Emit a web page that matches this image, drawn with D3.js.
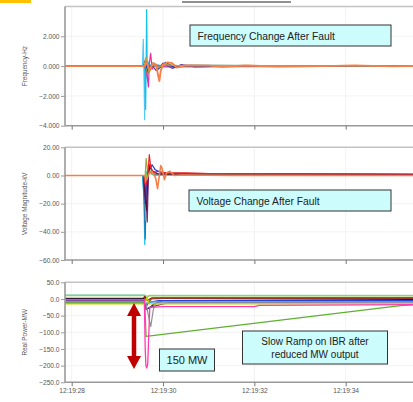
<!DOCTYPE html>
<html><head><meta charset="utf-8">
<script src="https://cdnjs.cloudflare.com/ajax/libs/d3/7.8.5/d3.min.js"></script>
<style>
html,body{margin:0;padding:0;background:#fff;}
svg{display:block;}
text{font-family:"Liberation Sans",Arial,sans-serif;}
</style></head>
<body>
<svg id="chart" width="413" height="402"></svg>
<script>
// ---------- DATA ----------
const timeTicks = [28, 30, 32, 34];
const timeLabels = ["12:19:28", "12:19:30", "12:19:32", "12:19:34"];

const freqTicks = [-4, -2, 0, 2];
const voltTicks = [-60, -40, -20, 0, 20];
const powerTicks = [-250, -200, -150, -100, -50, 0, 50];

const panelTitles = ["Frequency-Hz", "Voltage Magnitude-kV", "Real Power-MW"];

// frequency deviation series, [seconds, Hz]
const freqSeries = [
  [[27.85,0],[29.55,0],[29.567,1.8],[29.585,-1.0],[29.597,-3.6],[29.61,0.2],[29.63,-0.2],[29.7,0.1],[29.8,0],[35.9,0]],
  [[27.85,0],[29.6,0],[29.619,-2.9],[29.63,0],[29.641,3.8],[29.655,-0.8],[29.67,0.3],[29.72,-0.2],[29.85,0.1],[30.0,0],[35.9,0]],
  [[27.85,0],[29.6,0],[29.65,-0.6],[29.68,-1.4],[29.70,0.2],[29.73,0.85],[29.76,-0.2],[29.82,0.1],[29.95,-0.05],[35.9,0]],
  [[27.85,0],[29.58,0],[29.62,0.4],[29.66,-0.5],[29.72,-0.3],[29.8,0.2],[29.9,-0.1],[30.1,0.15],[30.3,-0.05],[30.6,0.05],[35.9,0]],
  [[27.85,0],[29.58,0],[29.62,0.5],[29.67,-0.3],[29.75,0.1],[29.85,-0.3],[30.0,0.2],[30.2,-0.15],[30.4,0.1],[30.7,-0.05],[31.5,0.02],[35.9,0]],
  [[27.85,0],[29.58,0],[29.6,0.3],[29.68,-0.4],[29.78,0.2],[29.9,-0.2],[30.05,0.25],[30.25,-0.1],[30.5,0.05],[35.9,0]],
  [[27.85,0],[29.58,0],[29.63,0.6],[29.69,-0.4],[29.77,0.15],[29.88,-0.15],[30.0,0.1],[30.3,0.05],[35.9,0]],
  [[27.85,0],[29.6,0],[29.64,0.3],[29.70,-0.3],[29.78,0.2],[29.85,0.1],[29.89,-0.6],[29.92,-1.0],[29.95,-0.3],[30.0,0.1],[30.1,0.25],[30.2,0.2],[30.3,-0.1],[30.5,0.05],[31.0,0.03],[31.3,-0.05],[31.8,0.04],[32.5,-0.03],[33.5,0.0],[34.2,0.05],[35.0,-0.02],[35.9,0.03]]
];
const freqColors = ["#55c8f5","#12c2ee","#ee2a9b","#7ab800","#6a3d9a","#2040c0","#b5a642","#f4804a"];

// voltage deviation series, [seconds, kV]
const voltSeries = [
  [[27.85,0],[29.55,0],[29.58,-15],[29.60,-49],[29.62,-20],[29.64,2],[29.68,5],[29.75,1],[29.9,0.5],[35.9,0]],
  [[27.85,0],[29.56,0],[29.59,-20],[29.61,-45],[29.63,-15],[29.66,3],[29.72,2],[29.85,0.5],[35.9,0]],
  [[27.85,0],[29.57,0],[29.6,-10],[29.625,-32],[29.64,0],[29.66,5],[29.72,3],[29.8,0],[35.9,0]],
  [[27.85,0],[29.58,0],[29.62,-10],[29.655,-33],[29.68,0],[29.71,8],[29.75,4],[29.8,2],[29.9,1],[30.0,1.5],[35.9,0.5]],
  [[27.85,0],[29.58,0],[29.61,-20],[29.64,-5],[29.68,3],[29.76,7.6],[29.83,4],[29.95,2],[30.1,1.5],[35.9,0.5]],
  [[27.85,0],[29.58,0],[29.6,-5],[29.63,12],[29.66,4],[29.75,2],[29.9,1],[35.9,0.5]],
  [[27.85,0],[29.57,0],[29.6,-12],[29.64,-25],[29.67,-2],[29.7,6],[29.78,3],[29.9,1],[35.9,0.8]],
  [[27.85,0],[29.57,0],[29.62,-8],[29.66,-2],[29.7,14.9],[29.73,6],[29.78,2],[29.9,3],[30.05,1.8],[30.5,1.8],[31,1.4],[32,1.3],[33,1.2],[35.9,1.0]],
  [[27.85,0],[29.6,0],[29.64,-3],[29.7,2],[29.76,3],[29.84,-2],[29.88,-9.4],[29.92,0],[29.95,7],[29.98,5],[30.03,-3],[30.08,2],[30.15,3],[30.25,0],[30.4,0.3],[31.5,0.1],[35.9,0]]
];
const voltColors = ["#17c0eb","#1f78b4","#8dc63f","#7b2a8c","#2633d6","#a7a33a","#5a1040","#e8262a","#f4804a"];

// real power series, [seconds, MW]
const powerSeries = [
  [[27.85,12],[29.6,12],[29.65,8],[29.7,11],[35.9,11]],
  [[27.85,10],[29.6,10],[29.64,4],[29.7,9],[35.9,9]],
  [[27.85,0],[29.57,0],[29.6,5],[29.63,-25],[29.68,-10],[29.75,0],[30.0,2],[35.9,2]],
  [[27.85,2],[29.57,2],[29.6,8],[29.65,-5],[29.75,3],[35.9,3]],
  [[27.85,0],[29.58,0],[29.62,-30],[29.7,-28],[29.8,-15],[30.0,-5],[35.9,-2]],
  [[27.85,-3],[29.58,-3],[29.62,-20],[29.7,-10],[29.9,-5],[35.9,-5]],
  [[27.85,-5],[29.58,-5],[29.63,-32],[29.7,-25],[29.85,-20],[30.1,-12],[35.9,-8]],
  [[27.85,-7],[29.6,-7],[29.65,-15],[29.75,-9],[35.9,-9]],
  [[27.85,-10],[29.62,-10],[29.65,-30],[29.73,-83],[29.79,-30],[29.85,-12],[35.9,-12]],
  [[27.85,-15],[29.6,-15],[29.65,5],[29.7,-15],[35.9,-15]],
  [[27.85,-12],[29.6,-12],[29.63,-112],[35.2,-20],[35.9,-15]],
  [[27.85,-2],[29.59,-2],[29.61,-150],[29.625,-200],[29.645,-207],[29.665,-195],[29.69,-100],[29.71,-25],[30.0,-23],[32.0,-23],[32.1,-19],[35.9,-17]]
];
const powerColors = ["#8fd8b0","#9ad050","#a0522d","#8b1a1a","#1a1a40","#2040e0","#7030a0","#30b0e0","#909090","#c4d600","#5fb030","#ff3ab0"];

// ---------- DRAW ----------
const svg = d3.select("#chart");
const X0 = 65, X1 = 430;
const x = d3.scaleLinear().domain([28, 34]).range([71.7, 345.7]);

// top decorations
svg.append("rect").attr("x",0).attr("y",0).attr("width",31).attr("height",3).attr("fill","#ffc000");
svg.append("line").attr("x1",182).attr("x2",291).attr("y1",2).attr("y2",2).attr("stroke","#222").attr("stroke-width",1);

const panels = [
  {series: freqSeries, colors: freqColors, ticks: freqTicks, domain:[-4,4], range:[125.7,6.5], fmt: d3.format(".3f"), title: panelTitles[0], labels:false, lastW:1.9},
  {series: voltSeries, colors: voltColors, ticks: voltTicks, domain:[-60,20], range:[260,147.3], fmt: d3.format(".2f"), title: panelTitles[1], labels:false, lastW:1.6},
  {series: powerSeries, colors: powerColors, ticks: powerTicks, domain:[-250,50], range:[382.3,282.3], fmt: d3.format(".1f"), title: panelTitles[2], labels:true, lastW:1.3}
];

panels.forEach((p, i) => {
  const y = d3.scaleLinear().domain(p.domain).range(p.range);
  const top = p.range[1], bot = p.range[0];
  const g = svg.append("g");
  const clipId = "clip" + i;
  svg.append("clipPath").attr("id", clipId).append("rect")
    .attr("x", X0).attr("y", top).attr("width", X1 - X0).attr("height", bot - top);

  // grid
  g.selectAll(".vg").data(timeTicks).join("line")
    .attr("x1", d => x(d)).attr("x2", d => x(d)).attr("y1", top).attr("y2", bot)
    .attr("stroke", "#eeeeee").attr("stroke-width", 0.8);
  g.selectAll(".hg").data(p.ticks).join("line")
    .attr("x1", X0).attr("x2", X1).attr("y1", d => y(d)).attr("y2", d => y(d))
    .attr("stroke", "#f0f0f0").attr("stroke-width", 0.8);

  // frame top
  g.append("line").attr("x1", X0).attr("x2", X1).attr("y1", top).attr("y2", top)
    .attr("stroke", "#c4c4c4").attr("stroke-width", 1.6);

  // lines
  const line = d3.line().x(d => x(d[0])).y(d => y(d[1]));
  const n = p.series.length;
  g.append("g").attr("clip-path", `url(#${clipId})`)
    .selectAll("path").data(p.series).join("path")
    .attr("d", line).attr("fill", "none")
    .attr("stroke", (d, k) => p.colors[k])
    .attr("stroke-width", (d, k) => k === n - 1 ? p.lastW : 1.2)
    .attr("stroke-linejoin", "round");

  // y axis
  const ya = d3.axisLeft(y).tickValues(p.ticks).tickFormat(p.fmt).tickSize(4).tickPadding(1.5);
  const yg = svg.append("g").attr("transform", `translate(${X0},0)`).call(ya);
  yg.select(".domain").attr("stroke", "#9a9a9a").attr("stroke-width", 1.6).attr("d", `M0,${top}V${bot}`);
  yg.selectAll(".tick line").attr("stroke", "#9a9a9a");
  yg.selectAll(".tick text").attr("fill", "#555").attr("font-size", 6.6);

  // x axis
  const xa = d3.axisBottom(x).tickValues(timeTicks).tickSize(4)
    .tickFormat((d, k) => p.labels ? timeLabels[k] : "").tickPadding(2);
  const xg = svg.append("g").attr("transform", `translate(0,${bot})`).call(xa);
  xg.select(".domain").attr("stroke", "#9a9a9a").attr("stroke-width", 1.6).attr("d", `M${X0},0H${X1}`);
  xg.selectAll(".tick line").attr("stroke", "#777");
  xg.selectAll(".tick text").attr("fill", "#555").attr("font-size", 6.6);

  // title
  svg.append("text").attr("transform", `translate(27,${(top + bot) / 2}) rotate(-90)`)
    .attr("text-anchor", "middle").attr("font-size", 6.4).attr("fill", "#555").text(p.title);
});

// annotations
function box(x0, y0, w, h, lines, opts) {
  svg.append("rect").attr("x", x0).attr("y", y0).attr("width", w).attr("height", h)
    .attr("fill", "#ccfcfc").attr("stroke", "#333").attr("stroke-width", 1);
  lines.forEach((t, k) => {
    svg.append("text").attr("x", opts.anchor === "middle" ? x0 + w / 2 : x0 + opts.pad)
      .attr("y", opts.base + k * opts.lh).attr("text-anchor", opts.anchor)
      .attr("font-size", opts.size).attr("fill", "#222").text(t);
  });
}
box(190, 25, 201, 21, ["Frequency Change After Fault"], {anchor:"start", pad:7.5, base:39.5, size:10.3, lh:0});
box(189, 190, 202, 21, ["Voltage Change After Fault"], {anchor:"start", pad:7.5, base:204.5, size:10.3, lh:0});
box(159.5, 349, 55, 22, ["150 MW"], {anchor:"middle", base:364, size:11, lh:0});
box(242.5, 331, 145, 33, ["Slow Ramp on IBR after", "reduced MW output"], {anchor:"middle", base:345, size:10, lh:12.5});

// red double arrow
const ax = 134, ay0 = 303, ay1 = 369;
svg.append("line").attr("x1", ax).attr("x2", ax).attr("y1", ay0 + 10).attr("y2", ay1 - 10)
  .attr("stroke", "#c00000").attr("stroke-width", 4.5);
svg.append("path").attr("d", `M${ax},${ay0}L${ax-7},${ay0+13}L${ax+7},${ay0+13}Z`).attr("fill", "#c00000");
svg.append("path").attr("d", `M${ax},${ay1}L${ax-7},${ay1-13}L${ax+7},${ay1-13}Z`).attr("fill", "#c00000");
</script>
</body></html>
